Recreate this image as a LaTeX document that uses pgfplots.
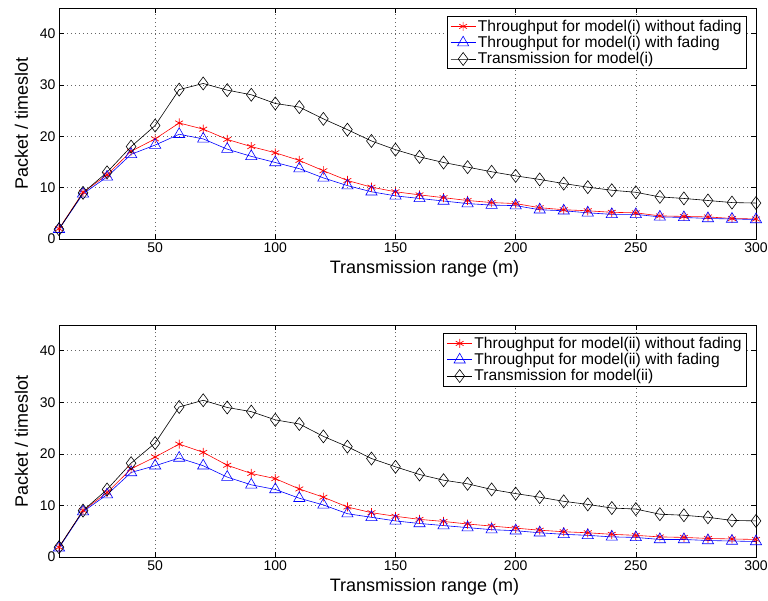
\documentclass[border=0pt]{standalone}
\usepackage{fontspec}
\setmainfont{Liberation Sans}
\usepackage{pgfplots}
\pgfplotsset{compat=1.18}

\pgfplotsset{
  thrplot/.style={
    scale only axis,
    width=697pt, height=231pt,
    xmin=10, xmax=300, ymin=0, ymax=45,
    xtick={50,100,...,300}, ytick={0,10,...,40},
    grid=major,
    major grid style={dash pattern=on 0.8pt off 3.2pt, black!60, line width=0.6pt},
    tick align=inside, major tick length=5pt,
    axis line style={line width=0.8pt},
    tick style={black, line width=0.6pt},
    /pgf/number format/assume math mode=true,
    tick label style={font=\fontsize{14}{16}\selectfont},
    label style={font=\fontsize{18}{20}\selectfont},
    xlabel={Transmission range (m)},
    ylabel={Packet / timeslot},
    xlabel style={yshift=-1pt, xshift=17pt},
    ylabel style={yshift=5pt},
    legend style={at={(0.987,0.965)}, anchor=north east,
      font=\fontsize{15.6}{17}\selectfont, draw=black, line width=0.8pt,
      row sep=-0.5pt, inner xsep=3pt, inner ysep=1.5pt},
    legend cell align=left,
    legend image code/.code={
      \draw[mark repeat=2, mark phase=2, #1] plot coordinates {(0pt,0pt) (12.5pt,0pt) (25pt,0pt)};
    },
  },
  redl/.style={red, line width=0.6pt, mark=asterisk, mark size=4.5pt, mark options={line width=0.7pt}},
  bluel/.style={blue, line width=0.6pt, mark=triangle, mark size=6.5pt, mark options={line width=0.6pt}},
  blackl/.style={black, line width=0.6pt, mark=diamond, mark size=6.5pt, mark options={line width=0.6pt}},
}

\begin{document}
\begin{tikzpicture}
\useasboundingbox (-59pt,-43pt) rectangle (709pt,557pt);

% top panel: model (i)
\begin{axis}[thrplot, at={(0pt,318pt)}, anchor=south west]
\addplot[redl] coordinates {
(10,2.0) (20,9.1) (30,12.5) (40,17.1) (50,19.5) (60,22.6) (70,21.4) (80,19.4) (90,18.0) (100,16.8)
(110,15.3) (120,13.3) (130,11.4) (140,10.1) (150,9.2) (160,8.6) (170,8.05) (180,7.5) (190,7.1) (200,6.9)
(210,6.1) (220,5.7) (230,5.5) (240,5.2) (250,5.1) (260,4.5) (270,4.4) (280,4.3) (290,4.0) (300,3.9)
};
\addplot[bluel] coordinates {
(10,1.9) (20,8.8) (30,12.1) (40,16.5) (50,18.3) (60,20.4) (70,19.5) (80,17.5) (90,16.1) (100,14.9)
(110,13.7) (120,11.9) (130,10.4) (140,9.2) (150,8.4) (160,7.9) (170,7.4) (180,6.9) (190,6.6) (200,6.5)
(210,5.7) (220,5.5) (230,5.1) (240,4.8) (250,4.8) (260,4.3) (270,4.2) (280,4.0) (290,3.9) (300,3.8)
};
\addplot[blackl] coordinates {
(10,1.9) (20,9.0) (30,13.0) (40,18.0) (50,22.1) (60,29.1) (70,30.3) (80,29.0) (90,28.1) (100,26.4)
(110,25.7) (120,23.4) (130,21.3) (140,19.1) (150,17.4) (160,16.0) (170,14.9) (180,14.0) (190,13.1) (200,12.3)
(210,11.6) (220,10.8) (230,10.1) (240,9.5) (250,9.1) (260,8.2) (270,7.9) (280,7.5) (290,7.1) (300,7.0)
};
\legend{Throughput for model(i) without fading, Throughput for model(i) with fading, Transmission for model(i)}
\end{axis}

% bottom panel: model (ii)
\begin{axis}[thrplot, height=232pt, at={(0pt,0pt)}, anchor=south west]
\addplot[redl] coordinates {
(10,1.9) (20,9.0) (30,12.5) (40,17.1) (50,19.4) (60,21.9) (70,20.3) (80,17.8) (90,16.2) (100,15.2)
(110,13.2) (120,11.6) (130,9.7) (140,8.6) (150,7.9) (160,7.3) (170,6.9) (180,6.4) (190,6.0) (200,5.6)
(210,5.2) (220,4.9) (230,4.7) (240,4.4) (250,4.2) (260,3.9) (270,3.8) (280,3.6) (290,3.5) (300,3.4)
};
\addplot[bluel] coordinates {
(10,1.8) (20,8.8) (30,12.1) (40,16.4) (50,17.7) (60,19.2) (70,17.7) (80,15.5) (90,14.0) (100,13.1)
(110,11.4) (120,10.1) (130,8.4) (140,7.7) (150,7.0) (160,6.5) (170,6.1) (180,5.7) (190,5.3) (200,5.1)
(210,4.7) (220,4.4) (230,4.2) (240,3.9) (250,3.8) (260,3.4) (270,3.4) (280,3.2) (290,3.1) (300,3.0)
};
\addplot[blackl] coordinates {
(10,1.9) (20,9.0) (30,13.1) (40,18.2) (50,22.1) (60,29.1) (70,30.4) (80,29.0) (90,28.2) (100,26.6)
(110,25.8) (120,23.4) (130,21.4) (140,19.1) (150,17.5) (160,16.0) (170,14.9) (180,14.2) (190,13.1) (200,12.3)
(210,11.6) (220,10.8) (230,10.2) (240,9.5) (250,9.3) (260,8.3) (270,8.1) (280,7.7) (290,7.1) (300,7.0)
};
\legend{Throughput for model(ii) without fading, Throughput for model(ii) with fading, Transmission for model(ii)}
\end{axis}
\end{tikzpicture}
\end{document}
